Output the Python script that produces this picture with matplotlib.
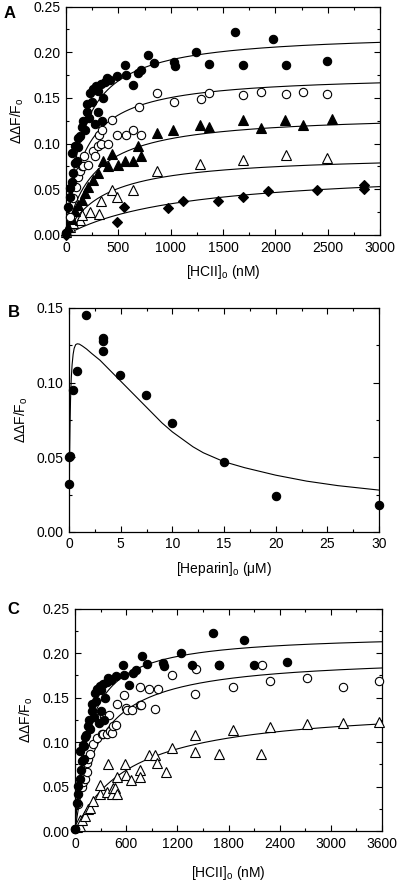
import matplotlib.pyplot as plt
import numpy as np
from matplotlib.ticker import MultipleLocator, FormatStrFormatter

plt.rcParams["font.family"] = ["Liberation Sans", "DejaVu Sans"]
plt.rcParams["mathtext.fontset"] = "custom"
plt.rcParams["mathtext.rm"] = "Liberation Sans"

# ---- panel A: HCII titration (nM) ----
A_FILLED_X = [0, 22, 38, 38, 55, 60, 70, 86, 90, 102, 110, 118, 134, 150, 165, 180, 197,
              200, 220, 230, 245, 260, 277, 290, 309, 309, 330, 341, 356, 373, 390, 420,
              484, 563, 573, 637, 685, 717, 786, 843, 1035, 1040, 1242, 1368, 1614, 1693,
              1980, 2100, 2490]
A_FILLED_Y = [0.002, 0.031, 0.042, 0.051, 0.058, 0.090, 0.068, 0.079, 0.097, 0.081, 0.096,
              0.106, 0.108, 0.118, 0.125, 0.115, 0.135, 0.143, 0.128, 0.155, 0.146, 0.160,
              0.121, 0.163, 0.135, 0.158, 0.165, 0.125, 0.150, 0.167, 0.172, 0.170, 0.174,
              0.186, 0.175, 0.164, 0.177, 0.181, 0.197, 0.188, 0.189, 0.185, 0.200, 0.187,
              0.222, 0.186, 0.215, 0.186, 0.190]

A_OPEN_X = [0, 40, 70, 100, 118, 137, 150, 165, 176, 213, 255, 277, 309, 318, 334, 341,
            404, 436, 490, 570, 643, 700, 716, 866, 1032, 1287, 1369, 1694, 1860, 2098,
            2260, 2490]
A_OPEN_Y = [0.002, 0.020, 0.040, 0.052, 0.064, 0.070, 0.075, 0.075, 0.086, 0.077, 0.092,
            0.086, 0.097, 0.110, 0.100, 0.115, 0.100, 0.126, 0.110, 0.109, 0.115, 0.140,
            0.110, 0.155, 0.146, 0.149, 0.155, 0.153, 0.157, 0.154, 0.157, 0.154]

A_TRI_X = [22, 54, 86, 118, 150, 181, 213, 261, 309, 357, 404, 436, 494, 564, 643, 691,
           716, 866, 1025, 1280, 1369, 1693, 1860, 2092, 2260, 2538]
A_TRI_Y = [0.009, 0.018, 0.026, 0.033, 0.038, 0.046, 0.053, 0.060, 0.068, 0.081, 0.076,
           0.089, 0.077, 0.081, 0.081, 0.097, 0.087, 0.112, 0.115, 0.120, 0.118, 0.126,
           0.117, 0.126, 0.120, 0.127]

A_OTRI_X = [0, 38, 70, 134, 150, 229, 318, 334, 436, 484, 643, 866, 1280, 1694, 2098, 2490]
A_OTRI_Y = [0.003, 0.009, 0.013, 0.016, 0.022, 0.025, 0.023, 0.037, 0.049, 0.042, 0.049,
            0.070, 0.078, 0.082, 0.088, 0.084]

A_DIA_X = [0, 484, 554, 977, 1120, 1455, 1688, 1932, 2401, 2850, 2850]
A_DIA_Y = [0.000, 0.014, 0.031, 0.029, 0.037, 0.037, 0.042, 0.048, 0.049, 0.055, 0.050]

# hyperbolic fits: Bmax, Kd (nM)
A_BMAX = [0.222, 0.176, 0.133, 0.0885, 0.0732]
A_KD = [158, 170, 262, 368, 1146]

# ---- panel B: heparin titration (uM) ----
B_X = [0, 0, 0.13, 0.39, 0.81, 1.61, 3.29, 3.29, 3.29, 4.97, 7.49, 9.97, 15, 20, 30]
B_Y = [0.032, 0.050, 0.051, 0.095, 0.108, 0.145, 0.130, 0.128, 0.121, 0.105, 0.092,
       0.073, 0.047, 0.024, 0.018]
B_FIT_X = [0, 0.03, 0.06, 0.1, 0.15, 0.22, 0.3, 0.4, 0.5, 0.65, 0.8, 1.0, 1.3, 1.7, 2.2,
           3.0, 4.0, 5.0, 6.0, 7.0, 8.0, 9.0, 10.0, 11.0, 12.0, 13.0, 15.0, 17.0, 20.0,
           23.0, 26.0, 30.0]
B_FIT_Y = [0.0, 0.030, 0.052, 0.072, 0.089, 0.103, 0.112, 0.119, 0.123, 0.1255, 0.126,
           0.1258, 0.1245, 0.1225, 0.1195, 0.115, 0.108, 0.101, 0.094, 0.087, 0.080, 0.073,
           0.067, 0.062, 0.057, 0.053, 0.047, 0.043, 0.038, 0.034, 0.031, 0.028]

# ---- panel C: HCII titration (nM) ----
C_OPEN_X = [0, 40, 78, 98, 118, 137, 137, 157, 176, 216, 255, 314, 333, 341, 372, 404,
            412, 431, 443, 482, 490, 580, 600, 608, 674, 765, 765, 776, 871, 941, 973,
            1137, 1404, 1420, 1686, 1851, 2188, 2286, 2726, 3137, 3561]
C_OPEN_Y = [0.002, 0.030, 0.050, 0.055, 0.059, 0.066, 0.076, 0.081, 0.087, 0.098, 0.104,
            0.109, 0.109, 0.129, 0.109, 0.130, 0.112, 0.110, 0.118, 0.119, 0.143, 0.153,
            0.138, 0.136, 0.136, 0.162, 0.142, 0.142, 0.160, 0.137, 0.160, 0.175, 0.154,
            0.182, 0.187, 0.162, 0.186, 0.169, 0.172, 0.162, 0.169]

C_OTRI_X = [20, 59, 59, 78, 118, 157, 176, 215, 294, 294, 373, 392, 431, 443, 471, 490,
            490, 588, 600, 659, 765, 765, 862, 941, 961, 1070, 1137, 1404, 1412, 1686,
            1851, 2184, 2286, 2726, 3137, 3561]
C_OTRI_Y = [0.004, 0.006, 0.012, 0.012, 0.017, 0.025, 0.026, 0.034, 0.042, 0.052, 0.044,
            0.075, 0.042, 0.048, 0.048, 0.042, 0.061, 0.075, 0.063, 0.057, 0.069, 0.061,
            0.085, 0.085, 0.076, 0.066, 0.093, 0.1075, 0.089, 0.087, 0.114, 0.087, 0.117,
            0.120, 0.121, 0.123]

C_BMAX = [0.222, 0.197, 0.142]
C_KD = [158, 271, 647]


def hyperbola(x, bmax, kd):
    return bmax * x / (kd + x)


def style_axes(ax, xmax, xmajor, ymax):
    ax.set_xlim(0, xmax)
    ax.set_ylim(0, ymax)
    ax.xaxis.set_major_locator(MultipleLocator(xmajor))
    ax.xaxis.set_minor_locator(MultipleLocator(xmajor / 2))
    ax.yaxis.set_major_locator(MultipleLocator(0.05))
    ax.yaxis.set_minor_locator(MultipleLocator(0.025))
    ax.yaxis.set_major_formatter(FormatStrFormatter("%.2f"))
    ax.tick_params(which="both", direction="in", top=True, right=True, width=0.8)
    ax.tick_params(which="major", length=4, labelsize=10, pad=4)
    ax.tick_params(which="minor", length=2.5)
    for s in ax.spines.values():
        s.set_linewidth(0.9)
    ax.set_ylabel("ΔΔF/F$_\\mathrm{o}$", fontsize=10, labelpad=5)


def dots(ax, x, y, marker, filled, ms):
    ax.plot(x, y, marker, ls="none", ms=ms, mfc="black" if filled else "white",
            mec="black", mew=0.8, clip_on=False, zorder=3)


fig = plt.figure(figsize=(4.0, 8.85), dpi=100)

# panel A
ax = fig.add_axes([0.165, 0.7345, 0.785, 0.258])
xs = np.linspace(0, 3000, 400)
for bmax, kd in zip(A_BMAX, A_KD):
    ax.plot(xs, hyperbola(xs, bmax, kd), color="black", lw=0.8, zorder=2)
dots(ax, A_DIA_X, A_DIA_Y, "D", True, 5)
dots(ax, A_OTRI_X, A_OTRI_Y, "^", False, 6.5)
dots(ax, A_TRI_X, A_TRI_Y, "^", True, 6.5)
dots(ax, A_OPEN_X, A_OPEN_Y, "o", False, 6)
dots(ax, A_FILLED_X, A_FILLED_Y, "o", True, 6)
style_axes(ax, 3000, 500, 0.25)
ax.set_xlabel("[HCII]$_\\mathrm{o}$ (nM)", fontsize=10, labelpad=6)
fig.text(0.008, 0.993, "A", fontsize=12, fontweight="bold", va="top")

# panel B
ax = fig.add_axes([0.1725, 0.399, 0.775, 0.253])
ax.plot(B_FIT_X, B_FIT_Y, color="black", lw=0.8, zorder=2)
dots(ax, B_X, B_Y, "o", True, 6)
style_axes(ax, 30, 5, 0.15)
ax.xaxis.set_major_formatter(FormatStrFormatter("%d"))
ax.set_xlabel("[Heparin]$_\\mathrm{o}$ (μM)", fontsize=10, labelpad=6)
fig.text(0.02, 0.655, "B", fontsize=12, fontweight="bold", va="top")

# panel C
ax = fig.add_axes([0.1875, 0.061, 0.7675, 0.2514])
xs = np.linspace(0, 3600, 400)
for bmax, kd in zip(C_BMAX, C_KD):
    ax.plot(xs, hyperbola(xs, bmax, kd), color="black", lw=0.8, zorder=2)
dots(ax, C_OTRI_X, C_OTRI_Y, "^", False, 6.5)
dots(ax, C_OPEN_X, C_OPEN_Y, "o", False, 6)
dots(ax, A_FILLED_X, A_FILLED_Y, "o", True, 6)
style_axes(ax, 3600, 600, 0.25)
ax.set_xlabel("[HCII]$_\\mathrm{o}$ (nM)", fontsize=10, labelpad=10)
fig.text(0.018, 0.32, "C", fontsize=12, fontweight="bold", va="top")

fig.savefig("out.png", dpi=100)
plt.close(fig)
